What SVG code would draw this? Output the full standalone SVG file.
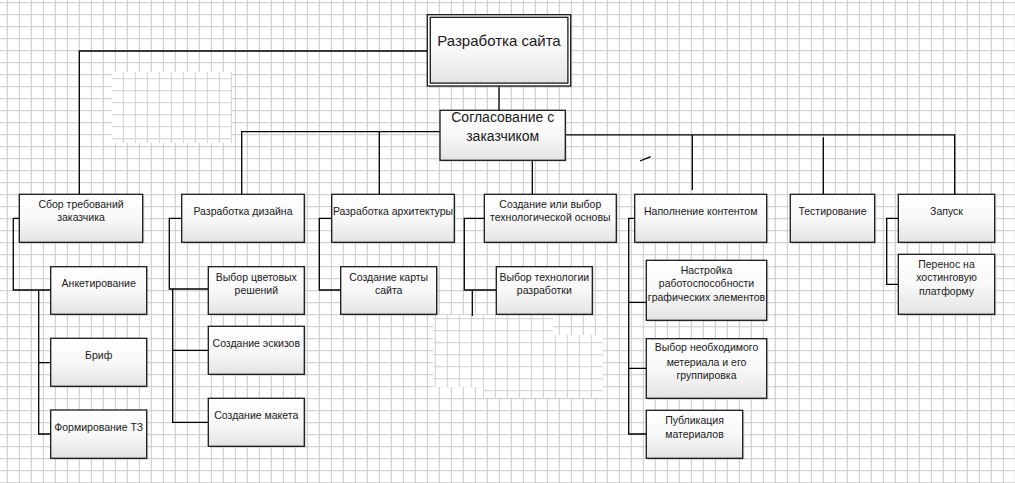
<svg xmlns="http://www.w3.org/2000/svg" width="1015" height="483" viewBox="0 0 1015 483">
<style>
.bx{fill:url(#g);stroke:#1a1a1a;stroke-width:1.3}
.sh{fill:#9a9a9a;opacity:0.3}
.t{font-family:"Liberation Sans",Arial,sans-serif;font-size:10.5px;fill:#1a1a1a;text-anchor:middle}
.tl{font-family:"Liberation Sans",Arial,sans-serif;font-size:14px;fill:#1a1a1a;text-anchor:middle}
.c{fill:none;stroke:#000;stroke-width:1.3}
</style>
<defs>
<linearGradient id="g" x1="0" y1="0" x2="0" y2="1"><stop offset="0" stop-color="#ffffff"/><stop offset="0.5" stop-color="#f8f8f8"/><stop offset="1" stop-color="#e4e4e4"/></linearGradient>
<pattern id="grid" width="12" height="12" patternUnits="userSpaceOnUse" x="6.8" y="2.2"><rect width="12" height="12" fill="#fff"/><path d="M0.5 0V12M0 0.5H12" stroke="#c9c9c9" stroke-width="1"/></pattern>
<pattern id="grid2" width="12" height="12" patternUnits="userSpaceOnUse" x="2.8" y="6.2"><rect width="12" height="12" fill="#fff"/><path d="M0.5 0V12M0 0.5H12" stroke="#d0d0d0" stroke-width="1"/></pattern>
</defs>
<rect width="1015" height="483" fill="url(#grid)"/>
<rect x="112" y="72" width="120" height="71" fill="url(#grid2)"/>
<rect x="433" y="315" width="120" height="72" fill="url(#grid2)"/>
<rect x="553" y="335" width="50" height="63" fill="url(#grid2)"/>
<rect x="483" y="387" width="70" height="11" fill="url(#grid2)"/>

<g id="connectors">
<path class="c" d="M427.3 51H79.3V194.3"/>
<path class="c" d="M499 86V110.3"/>
<path class="c" d="M440 131.7H241.7V194.3M379.3 131.7V194.3"/>
<path class="c" d="M565.3 134.8H954.7V194.3M692.3 134.8V190M823.3 137.3V194.3"/>
<path class="c" d="M532.3 160.3V194.3"/>
<path class="c" d="M640 161L650.7 156.7" stroke-width="1"/>
<path class="c" d="M19.3 218.3H13.3V290H50.7M38.7 290V434H50.7M38.7 362.7H50.7"/>
<path class="c" d="M181.7 218.3H169.3V289H208.3M172.7 289V422.3H208.3M172.7 350.3H208.3"/>
<path class="c" d="M331.7 218.3H319.3V290H340.7"/>
<path class="c" d="M484.3 218.3H464.3V290H496.3M472.3 290V316"/>
<path class="c" d="M634.7 218.3H628.7V434H646.3M628.7 302.3H646.3M628.7 368.3H646.3"/>
<path class="c" d="M898.3 218.3H886.7V284.3H898.3"/>
</g>

<g id="n-root">
<rect class="sh" x="429" y="16.5" width="143.4" height="71.3"/>
<rect x="427.3" y="14.7" width="143.4" height="71.3" fill="#fff" stroke="#1a1a1a" stroke-width="1.3"/>
<rect class="bx" x="430.3" y="17.3" width="137.6" height="65.8"/>
<text class="tl" x="499" y="46" style="font-size:15px">Разработка сайта</text>
</g>
<g id="n-agree">
<rect class="sh" x="441.7" y="112" width="125.3" height="50"/>
<rect class="bx" x="440" y="110.3" width="125.3" height="50"/>
<text class="tl" x="502.7" y="122">Согласование с</text>
<text class="tl" x="502.7" y="140.5">заказчиком</text>
</g>

<g id="n-req">
<rect class="sh" x="21" y="196" width="123.4" height="48"/>
<rect class="bx" x="19.3" y="194.3" width="123.4" height="48"/>
<text class="t" x="81" y="208">Сбор требований</text>
<text class="t" x="81" y="221.4">заказчика</text>
</g>
<g id="n-design">
<rect class="sh" x="183.4" y="196" width="122.6" height="48"/>
<rect class="bx" x="181.7" y="194.3" width="122.6" height="48"/>
<text class="t" x="243" y="215.4">Разработка дизайна</text>
</g>
<g id="n-arch">
<rect class="sh" x="333.4" y="196" width="122.6" height="48"/>
<rect class="bx" x="331.7" y="194.3" width="122.6" height="48"/>
<text class="t" x="393" y="215.4">Разработка архитектуры</text>
</g>
<g id="n-tech">
<rect class="sh" x="486" y="196" width="132" height="48"/>
<rect class="bx" x="484.3" y="194.3" width="132" height="48"/>
<text class="t" x="550.3" y="208">Создание или выбор</text>
<text class="t" x="550.3" y="221.4">технологической основы</text>
</g>
<g id="n-content">
<rect class="sh" x="636.4" y="196" width="132" height="48"/>
<rect class="bx" x="634.7" y="194.3" width="132" height="48"/>
<text class="t" x="700.7" y="215.4">Наполнение контентом</text>
</g>
<g id="n-test">
<rect class="sh" x="792" y="196" width="84.4" height="48"/>
<rect class="bx" x="790.3" y="194.3" width="84.4" height="48"/>
<text class="t" x="832.5" y="215.4">Тестирование</text>
</g>
<g id="n-launch">
<rect class="sh" x="900" y="196" width="96.4" height="48"/>
<rect class="bx" x="898.3" y="194.3" width="96.4" height="48"/>
<text class="t" x="946.5" y="215.4">Запуск</text>
</g>

<g id="n-ank">
<rect class="sh" x="52.4" y="268.4" width="96" height="47.6"/>
<rect class="bx" x="50.7" y="266.7" width="96" height="47.6"/>
<text class="t" x="98.7" y="287">Анкетирование</text>
</g>
<g id="n-brif">
<rect class="sh" x="52.4" y="340" width="96" height="48"/>
<rect class="bx" x="50.7" y="338.3" width="96" height="48"/>
<text class="t" x="98.7" y="359.4">Бриф</text>
</g>
<g id="n-tz">
<rect class="sh" x="52.4" y="411.7" width="96" height="48.3"/>
<rect class="bx" x="50.7" y="410" width="96" height="48.3"/>
<text class="t" x="98.7" y="431.4">Формирование ТЗ</text>
</g>

<g id="n-color">
<rect class="sh" x="210" y="268.4" width="96" height="47.6"/>
<rect class="bx" x="208.3" y="266.7" width="96" height="47.6"/>
<text class="t" x="256.3" y="280.7">Выбор цветовых</text>
<text class="t" x="256.3" y="294">решений</text>
</g>
<g id="n-sketch">
<rect class="sh" x="210" y="328" width="96" height="48"/>
<rect class="bx" x="208.3" y="326.3" width="96" height="48"/>
<text class="t" x="256.3" y="347.4">Создание эскизов</text>
</g>
<g id="n-mockup">
<rect class="sh" x="210" y="400" width="96" height="48"/>
<rect class="bx" x="208.3" y="398.3" width="96" height="48"/>
<text class="t" x="256.3" y="419.4">Создание макета</text>
</g>

<g id="n-map">
<rect class="sh" x="342.4" y="268.4" width="96" height="47.6"/>
<rect class="bx" x="340.7" y="266.7" width="96" height="47.6"/>
<text class="t" x="388.7" y="280.7">Создание карты</text>
<text class="t" x="388.7" y="294">сайта</text>
</g>

<g id="n-techsel">
<rect class="sh" x="498" y="268.4" width="96" height="47.6"/>
<rect class="bx" x="496.3" y="266.7" width="96" height="47.6"/>
<text class="t" x="544.3" y="280.7">Выбор технологии</text>
<text class="t" x="544.3" y="294">разработки</text>
</g>

<g id="n-graph">
<rect class="sh" x="648" y="262" width="120.4" height="60"/>
<rect class="bx" x="646.3" y="260.3" width="120.4" height="60"/>
<text class="t" x="706.5" y="273.7">Настройка</text>
<text class="t" x="706.5" y="287.4">работоспособности</text>
<text class="t" x="706.5" y="301.4">графических элементов</text>
</g>
<g id="n-material">
<rect class="sh" x="648" y="340.4" width="120.4" height="59.6"/>
<rect class="bx" x="646.3" y="338.7" width="120.4" height="59.6"/>
<text class="t" x="706.5" y="351.4">Выбор необходимого</text>
<text class="t" x="706.5" y="365.7">метериала и его</text>
<text class="t" x="706.5" y="379">группировка</text>
</g>
<g id="n-pub">
<rect class="sh" x="648" y="412" width="96.4" height="48"/>
<rect class="bx" x="646.3" y="410.3" width="96.4" height="48"/>
<text class="t" x="694.5" y="424.4">Публикация</text>
<text class="t" x="694.5" y="438">материалов</text>
</g>

<g id="n-host">
<rect class="sh" x="900" y="256" width="96.4" height="60"/>
<rect class="bx" x="898.3" y="254.3" width="96.4" height="60"/>
<text class="t" x="946.5" y="267.7">Перенос на</text>
<text class="t" x="946.5" y="281.4">хостинговую</text>
<text class="t" x="946.5" y="295.4">платформу</text>
</g>
</svg>
